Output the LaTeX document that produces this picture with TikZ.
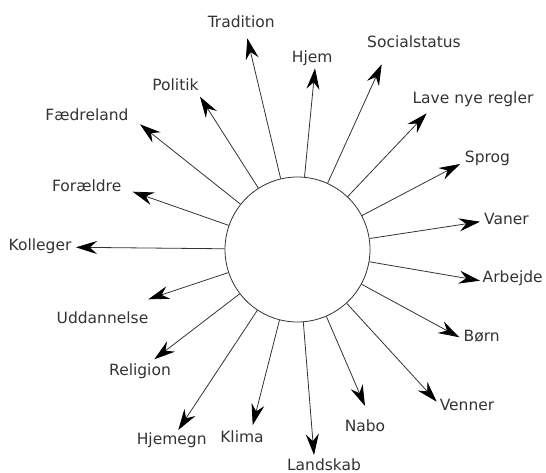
\documentclass[tikz,border=0pt]{standalone}
\usepackage{fontspec}
\setmainfont{DejaVu Sans}
\usetikzlibrary{arrows.meta}
\definecolor{ink}{HTML}{333333}

\begin{document}
\begin{tikzpicture}[
    x=1pt, y=-1pt,
    hub/.style={
        circle,
        minimum size=145pt,
        inner sep=0pt,
        draw=ink,
        line width=0.8pt,
        fill=white
    },
    spoke/.style={
        -{Stealth[length=21pt, width=13pt, inset=7pt, black]},
        line width=0.8pt,
        ink
    },
    word/.style={
        inner sep=0pt,
        text=ink,
        font=\fontsize{15.5}{18}\selectfont
    }
]
\useasboundingbox (0,0) rectangle (546,473);

\node[hub] (hub) at (297.5,249.5) {};

% labels
\node[word] (tradition) at (241.2,21.7) {Tradition};
\node[word] (hjem) at (312.2,58.3) {Hjem};
\node[word] (socialstatus) at (414,41.7) {Socialstatus};
\node[word] (regler) at (473,99.3) {Lave nye regler};
\node[word] (sprog) at (487.5,158) {Sprog};
\node[word] (vaner) at (506.5,219) {Vaner};
\node[word] (arbejde) at (512.7,278.3) {Arbejde};
\node[word] (born) at (481.7,336) {Børn};
\node[word] (venner) at (467,405) {Venner};
\node[word] (nabo) at (365,426) {Nabo};
\node[word] (landskab) at (324,465) {Landskab};
\node[word] (klima) at (242,436.7) {Klima};
\node[word] (hjemegn) at (171.7,440) {Hjemegn};
\node[word] (religion) at (140,371.7) {Religion};
\node[word] (uddannelse) at (102.5,317.3) {Uddannelse};
\node[word] (kolleger) at (40,246.7) {Kolleger};
\node[word] (foraeldre) at (86.7,186) {Forældre};
\node[word] (faedreland) at (87,115) {Fædreland};
\node[word] (politik) at (175.5,84.3) {Politik};

% arrow tips
\coordinate (t-tradition) at (247.3,38.3);
\coordinate (t-hjem) at (315,68.3);
\coordinate (t-socialstatus) at (381.7,64.3);
\coordinate (t-regler) at (426.7,113.3);
\coordinate (t-sprog) at (460,164);
\coordinate (t-vaner) at (480,221.7);
\coordinate (t-arbejde) at (480,280.7);
\coordinate (t-born) at (459.3,337.3);
\coordinate (t-venner) at (436.7,401.7);
\coordinate (t-nabo) at (365,406);
\coordinate (t-landskab) at (314,455);
\coordinate (t-klima) at (252.7,425);
\coordinate (t-hjemegn) at (178.3,430);
\coordinate (t-religion) at (154.3,359.3);
\coordinate (t-uddannelse) at (148.3,299.3);
\coordinate (t-kolleger) at (76,247.3);
\coordinate (t-foraeldre) at (132.7,191.7);
\coordinate (t-faedreland) at (140,124.3);
\coordinate (t-politik) at (200,96.7);

\draw[spoke] (hub) -- (t-tradition);
\draw[spoke] (hub) -- (t-hjem);
\draw[spoke] (hub) -- (t-socialstatus);
\draw[spoke] (hub) -- (t-regler);
\draw[spoke] (hub) -- (t-sprog);
\draw[spoke] (hub) -- (t-vaner);
\draw[spoke] (hub) -- (t-arbejde);
\draw[spoke] (hub) -- (t-born);
\draw[spoke] (hub) -- (t-venner);
\draw[spoke] (hub) -- (t-nabo);
\draw[spoke] (hub) -- (t-landskab);
\draw[spoke] (hub) -- (t-klima);
\draw[spoke] (hub) -- (t-hjemegn);
\draw[spoke] (hub) -- (t-religion);
\draw[spoke] (hub) -- (t-uddannelse);
\draw[spoke] (hub) -- (t-kolleger);
\draw[spoke] (hub) -- (t-foraeldre);
\draw[spoke] (hub) -- (t-faedreland);
\draw[spoke] (hub) -- (t-politik);

\end{tikzpicture}
\end{document}
